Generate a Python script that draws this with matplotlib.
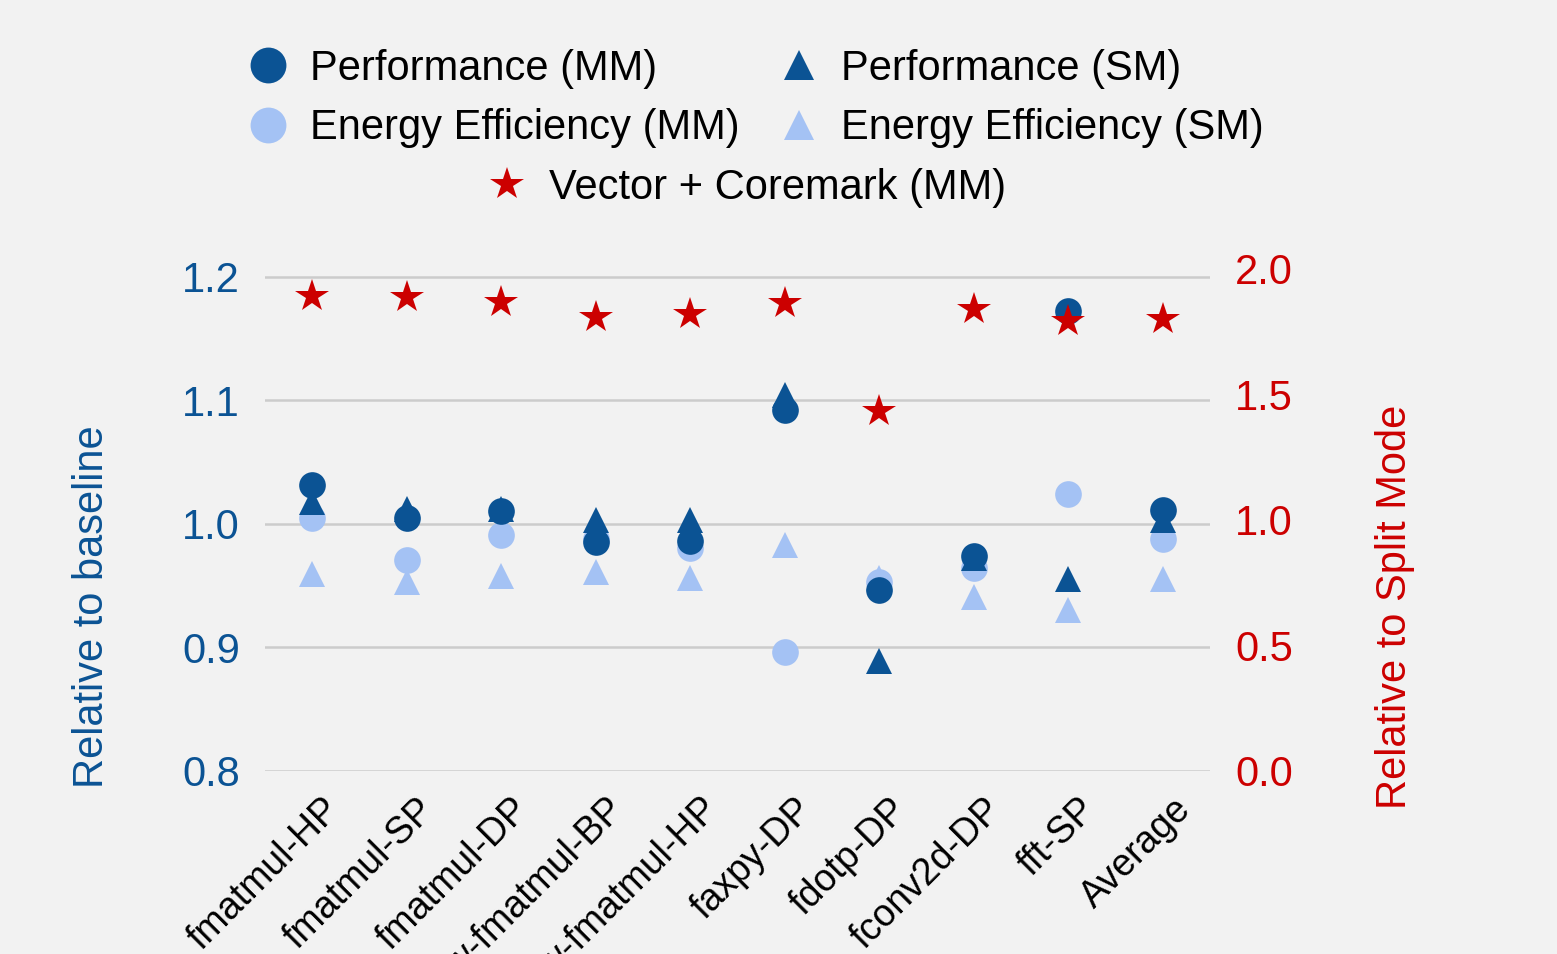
import numpy as np
import matplotlib
matplotlib.use("Agg")
import matplotlib.pyplot as plt
from matplotlib.lines import Line2D
from matplotlib.transforms import ScaledTranslation

plt.rcParams['font.family'] = ['Liberation Sans', 'DejaVu Sans']

benchmarks = ["fmatmul-HP", "fmatmul-SP", "fmatmul-DP", "w-fmatmul-BP", "w-fmatmul-HP",
              "faxpy-DP", "fdotp-DP", "fconv2d-DP", "fft-SP", "Average"]
perf_mm = [1.031, 1.005, 1.010, 0.985, 0.986, 1.092, 0.946, 0.974, 1.172, 1.011]
perf_sm = [1.018, 1.012, 1.012, 1.003, 1.003, 1.104, 0.889, 0.972, 0.955, 1.003]
energy_mm = [1.005, 0.971, 0.991, 0.988, 0.980, 0.896, 0.953, 0.964, 1.024, 0.988]
energy_sm = [0.959, 0.953, 0.958, 0.961, 0.956, 0.983, 0.956, 0.941, 0.930, 0.955]
vector_coremark = [1.892, 1.886, 1.869, 1.806, 1.820, 1.865, 1.433, 1.839, 1.790, 1.800]

dark = '#0b5394'
light = '#a4c2f4'
red = '#cc0000'
bg = '#f2f2f2'

fig = plt.figure(figsize=(1557/300, 954/300), dpi=300, facecolor=bg)
ax = fig.add_axes([0.1702, 0.19203, 0.60694, 0.53333], facecolor=bg)
x = np.arange(len(benchmarks))

ms = 6.4
ax.plot(x, energy_sm, '^', color=light, ms=ms, mew=0, zorder=3)
ax.plot(x, energy_mm, 'o', color=light, ms=ms, mew=0, zorder=4)
ax.plot(x, perf_sm, '^', color=dark, ms=ms, mew=0, zorder=5)
ax.plot(x, perf_mm, 'o', color=dark, ms=ms, mew=0, zorder=6)

ax.set_xlim(-0.5, len(benchmarks) - 0.5)
ax.set_ylim(0.8, 1.2119)
ax.set_yticks([0.8, 0.9, 1.0, 1.1, 1.2])
ax.yaxis.set_major_formatter(plt.FormatStrFormatter('%.1f'))
ax.grid(axis='y', color='#cccccc', linewidth=0.6)
ax.set_axisbelow(True)
ax.tick_params(axis='y', length=0, pad=6, labelsize=10, labelcolor=dark)
ax.tick_params(axis='x', length=0, pad=5)
ax.set_xticks(x)
ax.set_xticklabels(benchmarks, rotation=45, ha='right', fontsize=9)
shift = ScaledTranslation(35/300, 0, fig.dpi_scale_trans)
for lbl in ax.get_xticklabels():
    lbl.set_transform(lbl.get_transform() + shift)
ax.set_ylabel('Relative to baseline', color=dark, fontsize=10)
ax.yaxis.set_label_coords(-0.162, 0.322)

ax2 = ax.twinx()
ax2.plot(x, vector_coremark, '*', color=red, ms=8.4, mew=0, zorder=7)
ax2.set_ylim(0, 2.027)
ax2.set_yticks([0.0, 0.5, 1.0, 1.5, 2.0])
ax2.yaxis.set_major_formatter(plt.FormatStrFormatter('%.1f'))
ax2.tick_params(axis='y', length=0, pad=6, labelsize=10, labelcolor=red)
ax2.set_ylabel('Relative to Split Mode', color=red, fontsize=10)
ax2.yaxis.set_label_coords(1.175, 0.322)

for a in (ax, ax2):
    for s in a.spines.values():
        s.set_visible(False)

handles = [
    Line2D([], [], ls='', marker='o', color=dark, ms=8.6, mew=0),
    Line2D([], [], ls='', marker='^', color=dark, ms=7.3, mew=0),
    Line2D([], [], ls='', marker='o', color=light, ms=8.6, mew=0),
    Line2D([], [], ls='', marker='^', color=light, ms=7.3, mew=0),
]
labels = ['Performance (MM)', 'Performance (SM)',
          'Energy Efficiency (MM)', 'Energy Efficiency (SM)']
# ncol fills column-wise, so reorder to get MM in the left column
order = [0, 2, 1, 3]
fig.legend([handles[i] for i in order], [labels[i] for i in order],
           ncol=2, loc='center', bbox_to_anchor=(755.5/1557, 1 - 98.5/954),
           frameon=False, fontsize=10, handlelength=1.0, handletextpad=0.5,
           columnspacing=0.92, labelspacing=0.47)
star = Line2D([], [], ls='', marker='*', color=red, ms=8.4, mew=0)
fig.legend([star], ['Vector + Coremark (MM)'], loc='center',
           bbox_to_anchor=(746/1557, 1 - 188/954), frameon=False, fontsize=10,
           handlelength=1.0, handletextpad=0.5)

fig.savefig('out.png', dpi=300, facecolor=bg)
